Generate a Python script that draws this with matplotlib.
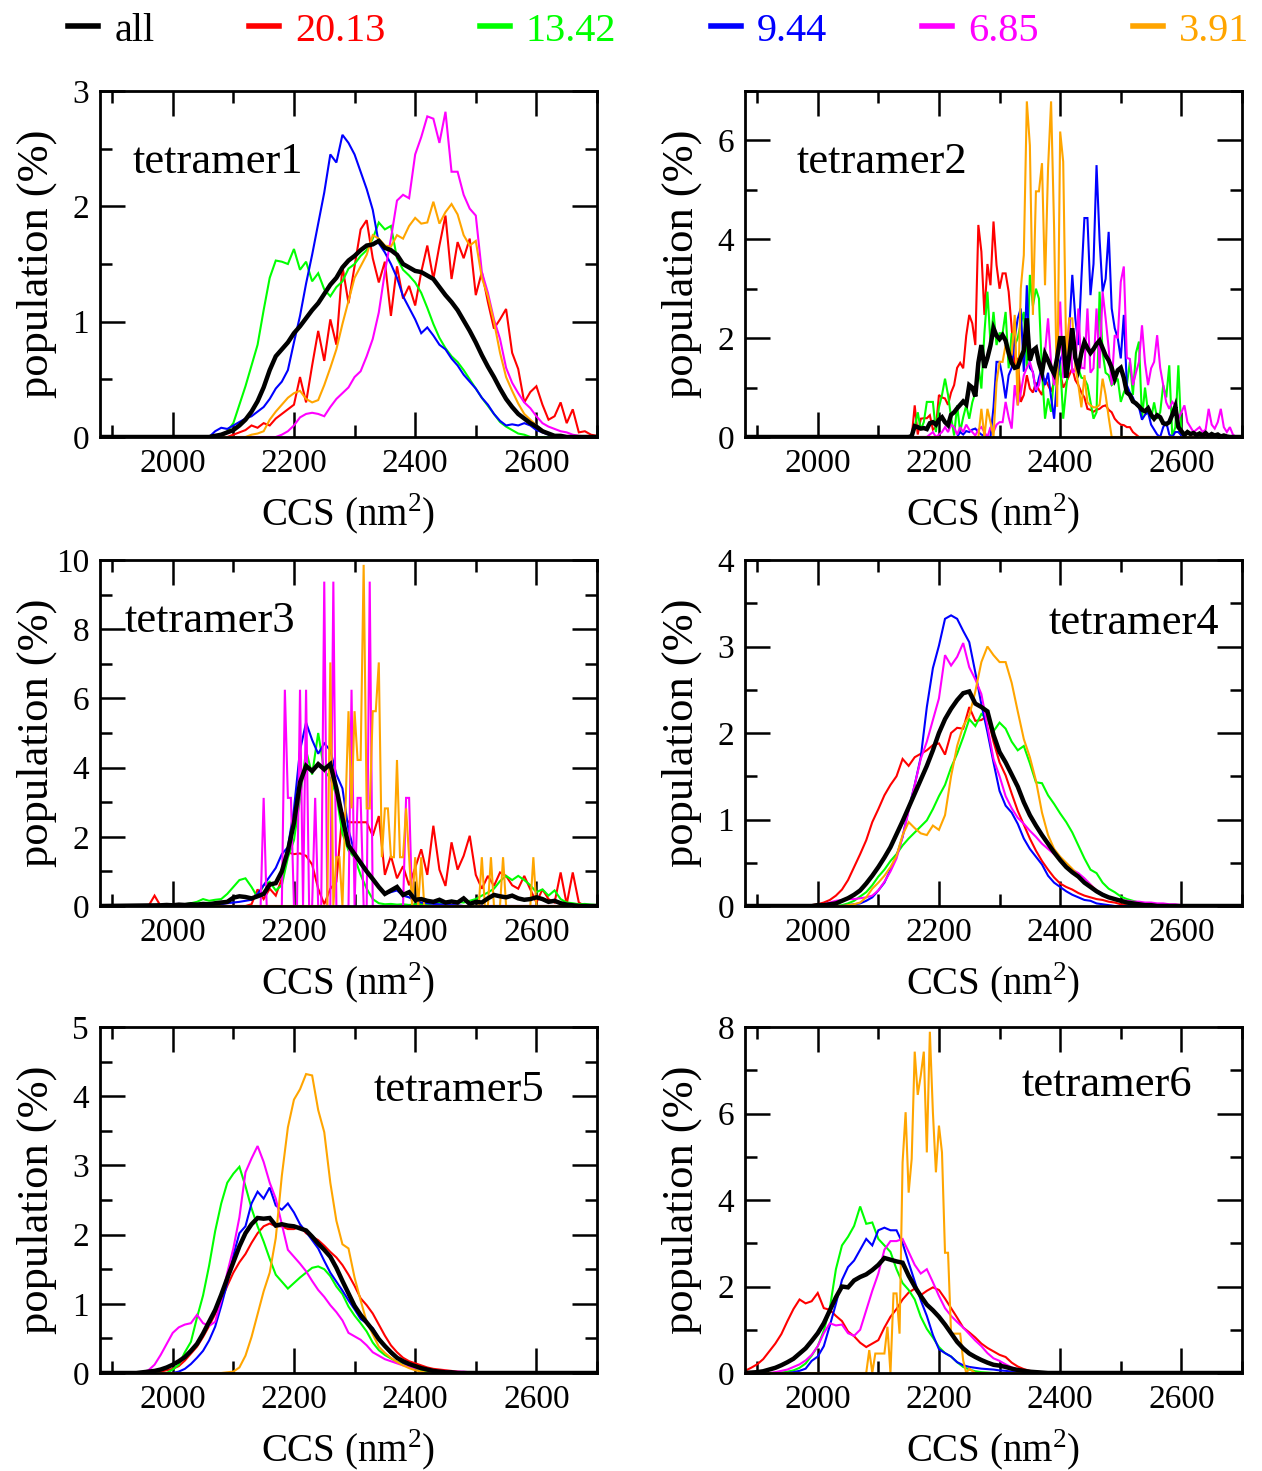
import numpy as np
import matplotlib
matplotlib.use("Agg")
import matplotlib.pyplot as plt
from matplotlib.ticker import MultipleLocator, FormatStrFormatter
from matplotlib.lines import Line2D

plt.rcParams['font.family'] = ['Liberation Serif', 'DejaVu Serif']
plt.rcParams['mathtext.fontset'] = 'custom'
plt.rcParams['mathtext.rm'] = 'Liberation Serif'

# ---------------------------------------------------------------- series
SERIES_LABELS = ["all", "20.13", "13.42", "9.44", "6.85", "3.91"]
SERIES_COLORS = ["black", "#ff0000", "#00ff00", "#0000ff", "#ff00ff", "#ffa500"]

CCS_MIN, CCS_MAX = 1880, 2700

# ---- tetramer1 (population %, one value per CCS bin)
t1_all = [0.0, 0.01, 0.02, 0.04, 0.06, 0.10, 0.15, 0.22, 0.31, 0.43, 0.58, 0.70, 0.76, 0.82, 0.90,
          0.96, 1.03, 1.10, 1.16, 1.24, 1.32, 1.38, 1.47, 1.53, 1.57, 1.62, 1.66, 1.67, 1.70, 1.64,
          1.62, 1.58, 1.50, 1.47, 1.44, 1.43, 1.40, 1.37, 1.30, 1.23, 1.17, 1.10, 1.01, 0.92, 0.82,
          0.71, 0.61, 0.52, 0.42, 0.33, 0.26, 0.20, 0.16, 0.12, 0.09, 0.05, 0.03, 0.01, 0.01, 0.0]
t1_r2013 = [0.0, 0.02, 0.04, 0.06, 0.10, 0.08, 0.12, 0.10, 0.16, 0.20, 0.24, 0.28, 0.52, 0.30, 0.62,
            0.92, 0.66, 1.02, 0.80, 1.48, 1.16, 1.48, 1.80, 1.88, 1.55, 1.34, 1.52, 1.05, 1.48, 1.20,
            1.31, 1.14, 1.43, 1.66, 1.37, 1.66, 1.92, 1.37, 1.69, 1.55, 1.72, 1.23, 1.43, 1.17, 0.94,
            1.02, 1.11, 0.73, 0.59, 0.30, 0.39, 0.44, 0.28, 0.15, 0.18, 0.30, 0.12, 0.24, 0.04, 0.05,
            0.02, 0.01]
t1_g1342 = [0.0, 0.05, 0.12, 0.28, 0.44, 0.62, 0.80, 1.10, 1.38, 1.53, 1.52, 1.50, 1.63, 1.45, 1.52,
            1.35, 1.42, 1.28, 1.22, 1.30, 1.35, 1.46, 1.50, 1.57, 1.62, 1.72, 1.86, 1.80, 1.83, 1.55,
            1.45, 1.40, 1.34, 1.25, 1.12, 0.98, 0.86, 0.77, 0.70, 0.65, 0.58, 0.50, 0.42, 0.34, 0.27,
            0.20, 0.13, 0.09, 0.06, 0.03, 0.02, 0.0]
t1_b944 = [0.0, 0.05, 0.08, 0.07, 0.10, 0.13, 0.16, 0.18, 0.22, 0.26, 0.33, 0.42, 0.48, 0.58, 0.82,
           1.05, 1.33, 1.58, 1.85, 2.12, 2.45, 2.38, 2.62, 2.55, 2.45, 2.30, 2.15, 1.97, 1.68, 1.60,
           1.50, 1.38, 1.22, 1.12, 1.02, 0.90, 0.95, 0.88, 0.80, 0.76, 0.68, 0.62, 0.54, 0.48, 0.42,
           0.34, 0.28, 0.20, 0.14, 0.10, 0.11, 0.10, 0.12, 0.10, 0.06, 0.04, 0.02, 0.01]
t1_m685 = [0.0, 0.02, 0.05, 0.10, 0.17, 0.20, 0.21, 0.20, 0.18, 0.26, 0.33, 0.38, 0.43, 0.52, 0.57,
           0.70, 0.85, 1.08, 1.43, 1.72, 2.05, 2.10, 2.07, 2.45, 2.60, 2.78, 2.76, 2.55, 2.82, 2.30,
           2.30, 2.10, 1.98, 1.92, 1.43, 1.25, 1.02, 0.85, 0.60, 0.47, 0.38, 0.30, 0.25, 0.18, 0.12,
           0.09, 0.07, 0.05, 0.04, 0.02, 0.01]
t1_o391 = [0.0, 0.02, 0.03, 0.05, 0.15, 0.22, 0.28, 0.34, 0.38, 0.40, 0.33, 0.30, 0.32, 0.45, 0.60,
           0.76, 0.98, 1.18, 1.38, 1.48, 1.58, 1.75, 1.72, 1.66, 1.65, 1.75, 1.72, 1.83, 1.90, 1.85,
           1.86, 2.04, 1.85, 1.95, 2.02, 1.93, 1.75, 1.66, 1.70, 1.38, 1.22, 1.00, 0.73, 0.52, 0.40,
           0.29, 0.20, 0.15, 0.10, 0.06, 0.03, 0.01]
# first bin centre and bin width (nm^2), order: all, 20.13, 13.42, 9.44, 6.85, 3.91
t1_bins = [(2060, 10), (2090, 10), (2080, 10), (2060, 10), (2170, 10), (2120, 10)]

# ---- tetramer2
t2_all = [0.0, 0.02, 0.22, 0.20, 0.17, 0.18, 0.16, 0.28, 0.30, 0.25, 0.35, 0.40, 0.30, 0.24, 0.45,
          0.50, 0.58, 0.65, 0.72, 0.66, 1.05, 1.00, 0.82, 1.50, 1.86, 1.40, 1.60, 1.85, 2.20, 2.05,
          1.98, 2.06, 1.95, 1.70, 1.50, 1.40, 1.42, 1.60, 1.75, 2.40, 1.55, 1.75, 1.80, 1.50, 1.30,
          1.68, 1.55, 1.40, 1.28, 1.60, 2.00, 2.00, 1.20, 1.65, 2.20, 1.60, 1.38, 1.70, 1.92, 1.80,
          1.70, 1.78, 1.88, 1.95, 1.80, 1.65, 1.55, 1.40, 1.18, 1.35, 1.40, 1.20, 0.90, 0.85, 0.72,
          0.68, 0.62, 0.55, 0.52, 0.58, 0.45, 0.37, 0.44, 0.40, 0.28, 0.26, 0.30, 0.45, 0.62, 0.20,
          0.12, 0.04, 0.10, 0.06, 0.08, 0.04, 0.07, 0.03, 0.08, 0.02, 0.06, 0.03, 0.05, 0.01, 0.03,
          0.01, 0.0]
t2_r2013 = [0.0, 0.64, 0.05, 0.37, 0.38, 0.38, 0.44, 0.15, 0.20, 0.85, 0.80, 0.78, 0.65, 0.90, 1.05,
            1.40, 1.50, 1.39, 2.05, 2.47, 2.30, 1.86, 4.29, 3.75, 2.47, 3.50, 3.07, 4.36, 3.48, 3.00,
            3.31, 3.31, 2.94, 2.20, 1.39, 1.60, 0.71, 0.85, 1.25, 0.98, 0.90, 1.10, 0.95, 0.85, 1.18,
            1.05, 0.92, 1.10, 1.25, 1.30, 1.00, 1.11, 1.25, 1.39, 1.15, 1.05, 0.90, 0.80, 0.57, 0.55,
            0.51, 0.55, 0.57, 0.62, 0.64, 0.55, 0.50, 0.37, 0.30, 0.25, 0.24, 0.20, 0.20, 0.10, 0.05,
            0.0]
t2_g1342 = [0.0, 0.20, 0.50, 0.15, 0.30, 0.71, 0.71, 0.71, 0.10, 0.60, 0.85, 1.18, 0.85, 0.40, 0.03,
            0.64, 0.10, 0.40, 0.64, 0.37, 0.70, 0.90, 1.45, 0.98, 2.10, 2.94, 1.90, 2.53, 1.86, 2.10,
            2.10, 2.53, 1.39, 2.10, 1.86, 2.00, 2.30, 2.53, 1.39, 3.28, 2.65, 3.00, 2.80, 1.32, 0.37,
            0.78, 0.51, 1.25, 1.05, 1.52, 0.37, 1.00, 1.59, 1.93, 1.60, 1.39, 1.20, 1.18, 1.05, 0.71,
            0.37, 0.50, 2.94, 1.72, 1.30, 1.25, 1.05, 1.10, 1.18, 0.71, 0.90, 1.05, 1.52, 0.85, 1.70,
            1.93, 0.37, 1.00, 0.50, 0.37, 0.70, 0.37, 0.50, 1.05, 0.80, 1.45, 0.0, 0.20, 1.45, 0.05,
            0.0]
t2_b944 = [0.0, 0.10, 0.05, 0.12, 0.10, 0.15, 0.17, 0.10, 0.05, 0.02, 0.0, 0.0, 0.60, 1.52, 1.52,
           1.20, 0.78, 1.25, 1.40, 2.00, 2.40, 2.60, 1.32, 3.07, 1.40, 1.32, 0.91, 1.20, 1.40, 1.05,
           1.30, 0.80, 0.37, 1.20, 1.55, 1.72, 1.20, 2.20, 3.28, 2.40, 1.86, 3.20, 4.43, 4.43, 2.87,
           3.50, 5.50, 4.00, 2.94, 3.20, 4.15, 2.60, 2.20, 2.00, 1.59, 2.47, 1.05, 0.90, 0.80, 0.65,
           0.60, 0.35, 0.45, 0.50, 0.25, 0.15, 0.05, 0.0, 0.20, 0.30, 0.05, 0.0, 0.10, 0.10, 0.03,
           0.0]
t2_m685 = [0.0, 0.05, 0.10, 0.0, 0.05, 0.10, 0.20, 0.10, 0.25, 0.20, 0.05, 0.20, 0.10, 0.25, 0.15,
           0.10, 0.03, 0.15, 0.20, 0.10, 0.0, 0.20, 0.10, 0.25, 0.30, 0.30, 0.71, 0.40, 0.17, 1.05,
           0.64, 0.90, 1.25, 1.40, 1.52, 1.30, 0.95, 1.05, 1.40, 1.72, 2.40, 1.50, 1.05, 1.65, 2.74,
           1.20, 1.25, 2.40, 1.30, 1.35, 2.60, 1.40, 1.39, 2.60, 1.30, 1.39, 2.60, 1.39, 2.94, 2.40,
           1.80, 1.05, 2.06, 2.00, 3.14, 3.45, 1.60, 1.58, 1.05, 1.30, 1.52, 2.26, 1.50, 1.05, 1.39,
           1.52, 2.06, 1.40, 1.05, 0.70, 0.57, 0.71, 0.64, 0.37, 0.50, 0.64, 0.30, 0.20, 0.10, 0.15,
           0.20, 0.10, 0.15, 0.57, 0.25, 0.17, 0.30, 0.57, 0.20, 0.10, 0.20, 0.05, 0.0]
t2_o391 = [0.0, 0.0, 0.57, 0.0, 0.57, 0.30, 0.0, 1.10, 1.52, 1.52, 1.86, 1.70, 1.65, 2.47, 0.64,
           3.00, 3.68, 6.79, 5.90, 2.47, 4.97, 4.97, 5.54, 3.07, 5.44, 6.79, 4.22, 0.61, 6.18, 5.57,
           1.59, 2.40, 2.40, 1.45, 1.05, 0.60, 1.25, 0.70, 0.64, 0.60, 0.60, 0.65, 1.18, 0.85, 0.40,
           0.0]
t2_bins = [(2150, 5), (2155, 5), (2155, 5), (2230, 5), (2180, 5), (2260, 5)]

# ---- tetramer3
t3_all = [0.02, 0.03, 0.02, 0.04, 0.03, 0.05, 0.04, 0.06, 0.05, 0.08, 0.10, 0.12, 0.24, 0.28, 0.26,
          0.22, 0.28, 0.35, 0.62, 0.66, 1.00, 1.60, 2.40, 3.57, 4.05, 3.90, 4.10, 3.95, 4.10, 3.40,
          2.55, 1.75, 1.50, 1.25, 1.00, 0.78, 0.55, 0.35, 0.45, 0.55, 0.32, 0.40, 0.18, 0.20, 0.15,
          0.12, 0.18, 0.10, 0.13, 0.10, 0.22, 0.06, 0.12, 0.10, 0.22, 0.32, 0.28, 0.25, 0.30, 0.22,
          0.18, 0.20, 0.25, 0.20, 0.12, 0.15, 0.08, 0.04, 0.02, 0.0]
t3_r2013 = [0.0, 0.30, 0.0, 0.0, 0.0, 0.0, 0.0, 0.0, 0.0, 0.0, 0.0, 0.0, 0.0, 0.0, 0.0, 0.0,
            0.0, 0.05, 0.48, 0.20, 0.50, 0.30, 0.80, 1.55, 1.50, 1.52, 1.45, 1.20, 0.50, 0.05, 0.50,
            0.70, 2.70, 2.42, 2.42, 2.42, 2.42, 2.03, 2.60, 0.90, 1.45, 0.80, 1.15, 0.60, 1.10, 1.64,
            0.90, 2.32, 1.05, 0.58, 1.84, 1.05, 1.45, 2.03, 0.90, 0.50, 0.87, 0.58, 0.97, 0.87, 0.60,
            0.50, 0.87, 0.48, 0.10, 0.48, 0.20, 0.10, 0.97, 0.05, 0.97, 0.10, 0.0]
t3_g1342 = [0.0, 0.02, 0.05, 0.08, 0.12, 0.20, 0.15, 0.18, 0.20, 0.35, 0.55, 0.75, 0.80, 0.55, 0.25,
            0.60, 0.70, 0.45, 0.60, 1.40, 1.90, 3.10, 4.50, 3.80, 5.00, 3.90, 3.70, 3.20, 2.10, 1.60,
            1.40, 0.90, 0.50, 0.20, 0.08, 0.05, 0.06, 0.04, 0.05, 0.03, 0.05, 0.06, 0.04, 0.08, 0.10,
            0.08, 0.15, 0.12, 0.10, 0.15, 0.20, 0.30, 0.39, 0.50, 0.72, 0.87, 0.75, 0.87, 0.75, 0.60,
            0.40, 0.48, 0.30, 0.45, 0.20, 0.10, 0.08, 0.05, 0.06, 0.04, 0.03]
t3_b944 = [0.0, 0.02, 0.03, 0.05, 0.08, 0.10, 0.12, 0.15, 0.18, 0.35, 0.60, 0.85, 1.10, 1.50, 1.70,
           2.80, 4.50, 5.30, 4.80, 4.40, 4.70, 4.50, 3.80, 3.40, 2.20, 1.55, 1.20, 1.00, 0.75, 0.55,
           0.35, 0.40, 0.45, 0.30, 0.25, 0.15, 0.10, 0.08, 0.06, 0.05, 0.04, 0.03, 0.02, 0.0]
t3_m685 = [0.0, 3.125, 0.0, 0.0, 0.0, 0.0, 0.0, 0.0, 6.25, 3.125, 3.125, 0.0, 0.0, 6.25, 0.0,
           6.25, 0.0, 0.0, 3.125, 0.0, 0.0, 9.375, 0.0, 0.0, 9.375, 0.0, 0.0, 0.0, 0.0, 0.0,
           6.25, 0.0, 3.125, 3.125, 0.0, 0.0, 9.375, 0.0, 0.0, 0.0, 0.0, 0.0, 0.0, 0.0, 0.0,
           0.0, 0.0, 0.0, 3.125, 3.125, 0.0]
t3_o391 = [0.0, 0.0, 7.04, 0.0, 1.41, 1.41, 0.0, 2.82, 5.63, 2.82, 5.63, 4.22, 4.22, 9.86, 2.82,
           2.82, 5.63, 5.63, 7.04, 1.41, 2.82, 2.82, 1.41, 1.41, 4.22, 1.41, 1.41, 2.82, 1.41, 0.0,
           1.41, 0.0, 1.41, 0.0, 0.0, 0.0, 0.0, 0.0, 0.0, 0.0, 0.0, 0.0, 0.0, 0.0, 0.0,
           0.0, 0.0, 0.0, 0.0, 0.0, 0.0, 0.0, 1.41, 0.0, 0.0, 1.41, 0.0, 0.0, 0.0, 1.41,
           0.0, 0.0, 0.0, 0.0, 0.0, 0.0, 0.0, 0.0, 0.0, 1.41, 0.0]
t3_bins = [(1980, 10), (1960, 10), (2000, 10), (2050, 10), (2145, 5), (2250, 5)]

# ---- tetramer4
t4_all = [0.0, 0.0, 0.01, 0.01, 0.02, 0.03, 0.06, 0.09, 0.13, 0.18, 0.26, 0.35, 0.45, 0.56, 0.68,
          0.83, 0.98, 1.14, 1.30, 1.46, 1.62, 1.80, 2.00, 2.16, 2.28, 2.38, 2.46, 2.48, 2.34, 2.30,
          2.25, 1.98, 1.78, 1.66, 1.52, 1.38, 1.20, 1.05, 0.93, 0.82, 0.72, 0.62, 0.53, 0.45, 0.39,
          0.34, 0.27, 0.22, 0.17, 0.13, 0.10, 0.08, 0.06, 0.04, 0.03, 0.02, 0.01, 0.01, 0.0]
t4_r2013 = [0.0, 0.01, 0.02, 0.04, 0.07, 0.12, 0.19, 0.30, 0.45, 0.60, 0.76, 0.97, 1.12, 1.28, 1.40,
            1.50, 1.70, 1.62, 1.72, 1.76, 1.80, 1.86, 1.88, 1.75, 2.00, 2.06, 2.05, 2.30, 2.14, 2.15,
            2.20, 1.90, 1.66, 1.51, 1.30, 1.10, 0.94, 0.78, 0.64, 0.52, 0.42, 0.33, 0.26, 0.22, 0.19,
            0.15, 0.12, 0.10, 0.08, 0.07, 0.05, 0.04, 0.02, 0.01, 0.0]
t4_g1342 = [0.0, 0.01, 0.03, 0.06, 0.11, 0.16, 0.24, 0.34, 0.42, 0.52, 0.60, 0.70, 0.78, 0.85, 0.92,
            0.99, 1.12, 1.27, 1.40, 1.60, 1.76, 1.95, 2.16, 2.08, 2.22, 2.16, 2.02, 2.12, 2.05, 1.90,
            1.80, 1.85, 1.65, 1.43, 1.42, 1.28, 1.18, 1.07, 0.97, 0.85, 0.70, 0.55, 0.42, 0.38, 0.27,
            0.20, 0.16, 0.11, 0.08, 0.06, 0.04, 0.03, 0.02, 0.01, 0.0]
t4_b944 = [0.0, 0.01, 0.02, 0.03, 0.06, 0.10, 0.18, 0.27, 0.42, 0.58, 0.80, 1.12, 1.40, 1.72, 2.30,
           2.75, 3.01, 3.32, 3.36, 3.32, 3.18, 3.05, 2.70, 2.33, 2.01, 1.66, 1.33, 1.16, 1.08, 0.95,
           0.78, 0.66, 0.57, 0.48, 0.35, 0.27, 0.22, 0.17, 0.13, 0.10, 0.07, 0.06, 0.03, 0.02, 0.01,
           0.0]
t4_m685 = [0.0, 0.02, 0.04, 0.06, 0.07, 0.08, 0.08, 0.09, 0.10, 0.12, 0.18, 0.28, 0.40, 0.55, 0.80,
           1.10, 1.40, 1.70, 1.90, 2.15, 2.40, 2.90, 2.78, 2.88, 3.04, 2.76, 2.62, 2.45, 2.08, 1.70,
           1.50, 1.27, 1.13, 1.02, 0.95, 0.87, 0.80, 0.72, 0.66, 0.60, 0.53, 0.46, 0.42, 0.38, 0.32,
           0.25, 0.18, 0.14, 0.10, 0.08, 0.07, 0.06, 0.05, 0.05, 0.04, 0.04, 0.03, 0.03, 0.02, 0.02,
           0.01, 0.0]
t4_o391 = [0.0, 0.01, 0.02, 0.04, 0.10, 0.20, 0.27, 0.35, 0.45, 0.58, 0.82, 0.97, 0.90, 0.84, 0.82,
           0.93, 0.88, 1.05, 1.50, 1.85, 2.08, 2.20, 2.48, 2.82, 3.00, 2.90, 2.82, 2.82, 2.58, 2.25,
           1.93, 1.72, 1.45, 1.08, 0.82, 0.66, 0.57, 0.50, 0.43, 0.35, 0.28, 0.24, 0.18, 0.13, 0.10,
           0.07, 0.05, 0.03, 0.02, 0.01, 0.0]
t4_bins = [(1980, 10), (1980, 10), (2030, 10), (2040, 10), (2000, 10), (2040, 10)]

# ---- tetramer5
t5_all = [0.0, 0.01, 0.02, 0.03, 0.05, 0.08, 0.12, 0.17, 0.23, 0.32, 0.42, 0.57, 0.74, 0.91, 1.13,
          1.37, 1.60, 1.83, 2.02, 2.15, 2.24, 2.23, 2.24, 2.13, 2.15, 2.13, 2.12, 2.09, 2.06, 1.97,
          1.87, 1.78, 1.68, 1.52, 1.33, 1.15, 0.97, 0.84, 0.73, 0.62, 0.49, 0.39, 0.30, 0.22, 0.17,
          0.13, 0.10, 0.07, 0.05, 0.03, 0.02, 0.01, 0.01, 0.0]
t5_r2013 = [0.0, 0.01, 0.02, 0.04, 0.06, 0.10, 0.18, 0.28, 0.38, 0.52, 0.68, 0.85, 1.05, 1.26, 1.45,
            1.60, 1.72, 1.88, 2.02, 2.12, 2.16, 2.12, 2.12, 2.08, 2.08, 2.12, 2.02, 1.97, 1.92, 1.84,
            1.75, 1.67, 1.56, 1.42, 1.26, 1.08, 0.98, 0.86, 0.70, 0.54, 0.40, 0.30, 0.22, 0.17, 0.14,
            0.11, 0.08, 0.06, 0.05, 0.04, 0.03, 0.02, 0.01, 0.01, 0.0]
t5_g1342 = [0.0, 0.05, 0.12, 0.30, 0.45, 0.80, 1.12, 1.55, 2.05, 2.45, 2.75, 2.88, 2.98, 2.70, 2.38,
            2.12, 1.90, 1.65, 1.42, 1.32, 1.22, 1.30, 1.38, 1.45, 1.52, 1.54, 1.50, 1.40, 1.25, 1.14,
            0.96, 0.83, 0.72, 0.60, 0.44, 0.33, 0.26, 0.21, 0.16, 0.13, 0.10, 0.07, 0.04, 0.02, 0.01,
            0.0]
t5_b944 = [0.0, 0.02, 0.06, 0.13, 0.22, 0.32, 0.47, 0.67, 0.97, 1.30, 1.70, 2.02, 2.12, 2.45, 2.62,
           2.52, 2.68, 2.42, 2.36, 2.45, 2.32, 2.15, 2.04, 1.92, 1.80, 1.62, 1.45, 1.32, 1.19, 1.05,
           0.92, 0.78, 0.72, 0.65, 0.50, 0.38, 0.28, 0.21, 0.15, 0.11, 0.09, 0.06, 0.04, 0.02, 0.01,
           0.0]
t5_m685 = [0.0, 0.01, 0.04, 0.12, 0.26, 0.42, 0.58, 0.66, 0.70, 0.72, 0.84, 0.72, 0.68, 0.74, 1.05,
           1.45, 1.80, 2.25, 2.90, 3.10, 3.28, 3.05, 2.75, 2.52, 2.15, 1.78, 1.68, 1.58, 1.47, 1.33,
           1.20, 1.10, 0.98, 0.88, 0.76, 0.58, 0.53, 0.48, 0.40, 0.30, 0.25, 0.20, 0.17, 0.14, 0.11,
           0.09, 0.07, 0.06, 0.05, 0.04, 0.03, 0.03, 0.02, 0.02, 0.02, 0.01, 0.01, 0.01, 0.0]
t5_o391 = [0.0, 0.01, 0.02, 0.08, 0.25, 0.52, 0.85, 1.18, 1.45, 1.95, 2.85, 3.55, 3.95, 4.10, 4.32,
           4.30, 3.80, 3.48, 2.75, 2.20, 1.86, 1.80, 1.38, 1.05, 0.74, 0.56, 0.38, 0.29, 0.22, 0.16,
           0.11, 0.07, 0.04, 0.02, 0.0]
t5_bins = [(1940, 10), (1960, 10), (1990, 10), (2000, 10), (1940, 10), (2080, 10)]

# ---- tetramer6
t6_all = [0.0, 0.01, 0.02, 0.04, 0.08, 0.12, 0.18, 0.25, 0.33, 0.45, 0.57, 0.74, 0.92, 1.15, 1.45,
          1.75, 2.00, 1.98, 2.14, 2.22, 2.28, 2.38, 2.50, 2.66, 2.62, 2.58, 2.55, 2.25, 2.00, 1.78,
          1.58, 1.45, 1.30, 1.12, 0.92, 0.72, 0.57, 0.45, 0.37, 0.30, 0.24, 0.19, 0.17, 0.14, 0.10,
          0.07, 0.05, 0.03, 0.02, 0.01, 0.0]
t6_r2013 = [0.05, 0.12, 0.20, 0.32, 0.50, 0.68, 0.90, 1.20, 1.48, 1.70, 1.61, 1.66, 1.85, 1.50, 1.46,
            1.32, 1.20, 0.96, 0.85, 0.70, 0.60, 0.68, 0.76, 1.05, 1.30, 1.48, 1.70, 1.86, 1.95, 1.80,
            1.90, 1.98, 1.92, 1.72, 1.50, 1.28, 1.05, 0.94, 0.82, 0.68, 0.58, 0.50, 0.42, 0.37, 0.24,
            0.15, 0.09, 0.05, 0.03, 0.02, 0.01, 0.0]
t6_g1342 = [0.0, 0.01, 0.03, 0.06, 0.12, 0.22, 0.40, 0.62, 0.98, 1.50, 2.40, 2.95, 3.15, 3.40, 3.85,
            3.45, 3.48, 3.10, 2.95, 2.80, 2.40, 2.08, 1.92, 1.70, 1.30, 1.02, 0.82, 0.60, 0.46, 0.38,
            0.25, 0.14, 0.08, 0.04, 0.02, 0.01, 0.0]
t6_b944 = [0.0, 0.02, 0.05, 0.10, 0.28, 0.38, 0.62, 1.10, 1.60, 2.15, 2.45, 2.60, 2.85, 3.10, 2.95,
           3.30, 3.36, 3.30, 3.30, 3.00, 2.55, 2.12, 1.68, 1.32, 0.88, 0.55, 0.46, 0.38, 0.25, 0.18,
           0.14, 0.12, 0.10, 0.09, 0.08, 0.06, 0.05, 0.03, 0.02, 0.01, 0.0]
t6_m685 = [0.0, 0.02, 0.05, 0.08, 0.14, 0.20, 0.29, 0.42, 0.62, 0.92, 1.15, 1.10, 1.12, 0.92, 0.86,
           1.00, 1.45, 1.90, 2.30, 2.85, 3.05, 3.05, 3.10, 2.80, 2.50, 2.30, 2.40, 2.10, 1.78, 1.50,
           1.32, 1.18, 1.05, 0.90, 0.75, 0.62, 0.46, 0.34, 0.28, 0.20, 0.13, 0.08, 0.05, 0.03, 0.01,
           0.0]
t6_o391 = [0.0, 0.53, 0.0, 0.45, 0.45, 0.45, 0.45, 1.07, 0.0, 1.84, 1.84, 0.91, 4.87, 6.03, 4.17,
           4.95, 7.43, 6.43, 6.88, 7.43, 5.10, 7.89, 6.03, 4.64, 5.72, 5.10, 2.78, 2.78, 0.91, 0.91,
           0.91, 0.91, 0.29, 0.0, 0.10, 0.05, 0.0]
t6_bins = [(1880, 10), (1880, 10), (1930, 10), (1950, 10), (1920, 10), (2080, 5)]

# ---------------------------------------------------------------- layout
FIG_W, FIG_H = 1262, 1471
COL_LEFT = [100, 745]
ROW_TOP = [91, 560, 1027]
AX_W, AX_H = 497, 346

panels = [
    dict(name="tetramer1", series=[t1_all, t1_r2013, t1_g1342, t1_b944, t1_m685, t1_o391],
         bins=t1_bins, ymax=3, major=1, minor=0.5, tag=(0.066, 0.795, "left")),
    dict(name="tetramer2", series=[t2_all, t2_r2013, t2_g1342, t2_b944, t2_m685, t2_o391],
         bins=t2_bins, ymax=7, major=2, minor=1, tag=(0.104, 0.795, "left")),
    dict(name="tetramer3", series=[t3_all, t3_r2013, t3_g1342, t3_b944, t3_m685, t3_o391],
         bins=t3_bins, ymax=10, major=2, minor=1, tag=(0.05, 0.824, "left")),
    dict(name="tetramer4", series=[t4_all, t4_r2013, t4_g1342, t4_b944, t4_m685, t4_o391],
         bins=t4_bins, ymax=4, major=1, minor=0.5, tag=(0.954, 0.818, "right")),
    dict(name="tetramer5", series=[t5_all, t5_r2013, t5_g1342, t5_b944, t5_m685, t5_o391],
         bins=t5_bins, ymax=5, major=1, minor=0.5, tag=(0.551, 0.818, "left")),
    dict(name="tetramer6", series=[t6_all, t6_r2013, t6_g1342, t6_b944, t6_m685, t6_o391],
         bins=t6_bins, ymax=8, major=2, minor=1, tag=(0.556, 0.833, "left")),
]

fig = plt.figure(figsize=(FIG_W / 100, FIG_H / 100), dpi=100)

TICK_FS = 24
for i, p in enumerate(panels):
    col, row = i % 2, i // 2
    left = COL_LEFT[col] / FIG_W
    bottom = 1 - (ROW_TOP[row] + AX_H) / FIG_H
    ax = fig.add_axes([left, bottom, AX_W / FIG_W, AX_H / FIG_H])

    # coloured runs first, ensemble ("all") on top
    for k in [1, 2, 3, 4, 5, 0]:
        vals = np.asarray(p["series"][k], dtype=float)
        start, step = p["bins"][k]
        x = start + step * np.arange(len(vals))
        x = np.concatenate(([CCS_MIN], x, [CCS_MAX]))
        y = np.concatenate(([0.0], vals, [0.0]))
        lw = 3.2 if k == 0 else 1.5
        ax.plot(x, y, color=SERIES_COLORS[k], lw=lw, solid_joinstyle="miter",
                zorder=3 if k == 0 else 2)

    ax.set_xlim(CCS_MIN, CCS_MAX)
    ax.set_ylim(0, p["ymax"])
    ax.xaxis.set_major_locator(MultipleLocator(200))
    ax.xaxis.set_minor_locator(MultipleLocator(100))
    ax.yaxis.set_major_locator(MultipleLocator(p["major"]))
    ax.yaxis.set_minor_locator(MultipleLocator(p["minor"]))
    ax.yaxis.set_major_formatter(FormatStrFormatter("%g"))
    ax.tick_params(which="both", direction="in", top=True, right=True, width=1.8,
                   labelsize=TICK_FS, pad=8)
    ax.tick_params(which="major", length=18)
    ax.tick_params(which="minor", length=8.5)
    for s in ax.spines.values():
        s.set_linewidth(2.0)

    ax.set_xlabel("CCS (nm$^\\mathregular{2}$)", fontsize=28)
    ax.set_ylabel("population (%)", fontsize=32)
    ax.xaxis.set_label_coords(0.5, -0.16)
    ax.yaxis.set_label_coords(-0.087, 0.5)

    tx, ty, ha = p["tag"]
    ax.text(tx, ty, p["name"], transform=ax.transAxes, fontsize=32, ha=ha, va="center", zorder=5)

handles = [Line2D([], [], color=c, lw=4) for c in SERIES_COLORS]
leg = fig.legend(handles, SERIES_LABELS, loc="center left",
                 bbox_to_anchor=(68 / FIG_W, 1 - 31 / FIG_H), ncol=6, frameon=False,
                 fontsize=29, handlelength=0.75, handletextpad=0.4, columnspacing=2.34,
                 borderpad=0, borderaxespad=0)
for txt, c in zip(leg.get_texts(), SERIES_COLORS):
    txt.set_color(c)

fig.savefig("out.png", dpi=100)
